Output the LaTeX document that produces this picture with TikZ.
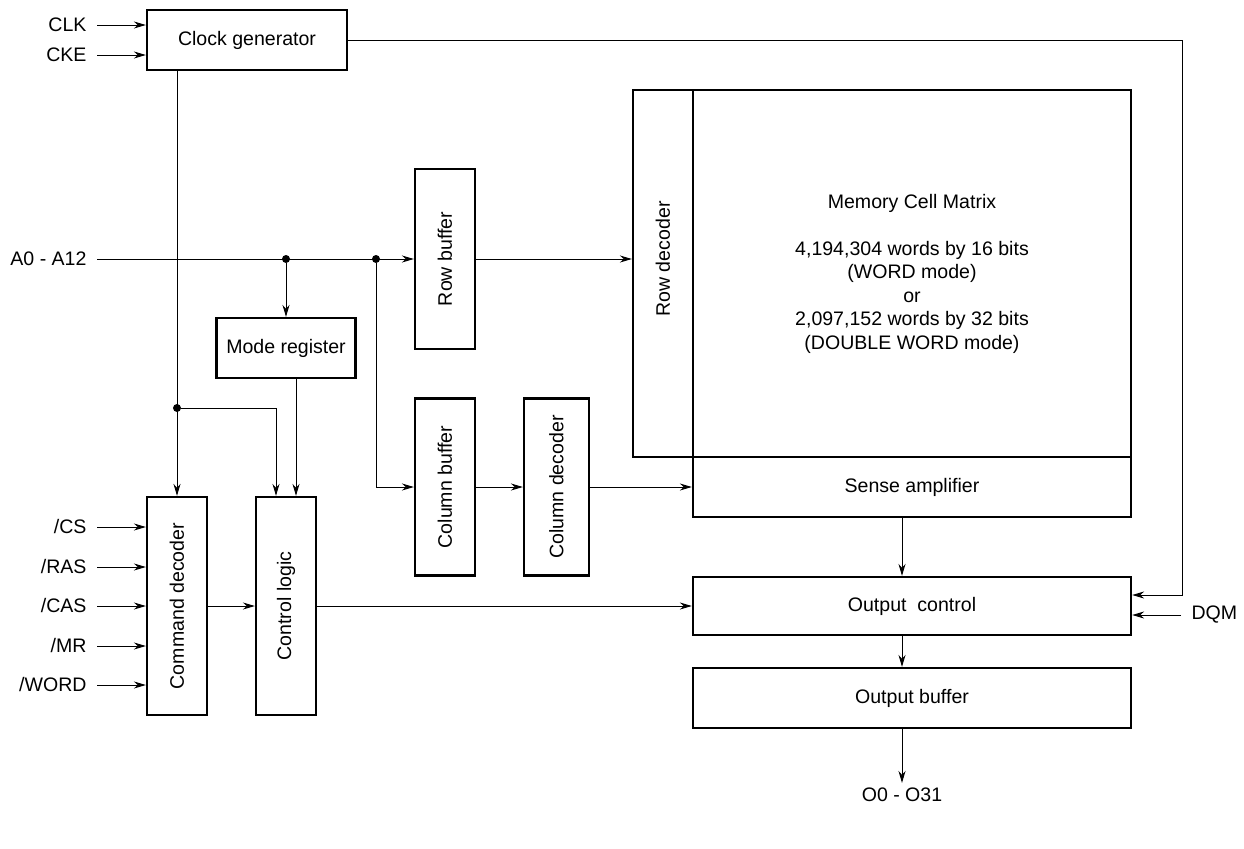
\documentclass[tikz,border=0pt]{standalone}
\usepackage{fontspec}
\setmainfont{Liberation Sans}
\usetikzlibrary{arrows.meta}
\tikzset{
  blk/.style={draw, line width=1.6pt, inner sep=0pt, align=center},
  sig/.style={inner xsep=0.25cm},
  dot/.style={circle, fill, inner sep=0pt, minimum size=0.2cm},
}
\begin{document}
\begin{tikzpicture}[x=0.025cm, y=-0.025cm, >={Stealth[length=8.5pt,width=5pt]}, line width=0.7pt, font=\fontsize{13.9}{16.7}\selectfont]
\useasboundingbox (0,0) rectangle (1244,849);

\node[blk, minimum width=5cm, minimum height=1.5cm] (clk) at (247,40) {Clock generator};
\node[blk, minimum width=3.475cm, minimum height=1.5cm] (mode) at (286,348) {Mode register};
\node[blk, minimum width=1.5cm, minimum height=4.5cm] (rowbuf) at (445,259) {\rotatebox{90}{Row buffer}};
\node[blk, minimum width=1.5cm, minimum height=4.425cm] (colbuf) at (445,487) {\rotatebox{90}{Column buffer}};
\node[blk, minimum width=1.625cm, minimum height=4.425cm] (coldec) at (556.5,487) {\rotatebox{90}{Column decoder}};
\node[blk, minimum width=1.5cm, minimum height=5.45cm] (cmd) at (177,606) {\rotatebox{90}{Command decoder}};
\node[blk, minimum width=1.5cm, minimum height=5.45cm] (ctrl) at (286,606) {\rotatebox{90}{Control logic}};
\node[blk, minimum width=1.5cm, minimum height=9.175cm] (rowdec) at (663,273.5) {};
\node[rotate=90] (rowdectext) at (663,259) {Row decoder};
\node[blk, minimum width=10.95cm, minimum height=9.175cm] (mem) at (912,273.5) {Memory Cell Matrix\\[16.7pt] 4,194,304 words by 16 bits\\ (WORD mode)\\ or\\ 2,097,152 words by 32 bits\\ (DOUBLE WORD mode)};
\node[blk, minimum width=10.95cm, minimum height=1.5cm] (sense) at (912,487) {Sense amplifier};
\node[blk, minimum width=10.95cm, minimum height=1.45cm] (outctrl) at (912,606) {Output\ \ control};
\node[blk, minimum width=10.95cm, minimum height=1.5cm] (outbuf) at (912,698) {Output buffer};

\node[anchor=east, sig] (clkin) at (97,25) {CLK};
\node[anchor=east, sig] (ckein) at (97,55) {CKE};
\node[anchor=east, sig] (addr) at (97,259) {A0 - A12};
\node[anchor=east, sig] (cs) at (97,527) {/CS};
\node[anchor=east, sig] (ras) at (97,567) {/RAS};
\node[anchor=east, sig] (cas) at (97,606) {/CAS};
\node[anchor=east, sig] (mr) at (97,646) {/MR};
\node[anchor=east, sig] (word) at (97,685) {/WORD};
\node[anchor=west, sig] (dqm) at (1181,615) {DQM};
\node (dout) at (902,795) {O0 - O31};

\node[dot] (ja) at (286,259) {};
\node[dot] (jb) at (376,259) {};
\node[dot] (jc) at (177,408) {};
\coordinate (fb) at (1182,595);

\draw[->] (clkin.east) -- (clkin.east -| clk.west);
\draw[->] (ckein.east) -- (ckein.east -| clk.west);
\draw[->] (cs.east) -- (cs.east -| cmd.west);
\draw[->] (ras.east) -- (ras.east -| cmd.west);
\draw[->] (cas.east) -- (cas.east -| cmd.west);
\draw[->] (mr.east) -- (mr.east -| cmd.west);
\draw[->] (word.east) -- (word.east -| cmd.west);

\draw[->] (clk.east) -- (clk.east -| fb) -- (fb) -- (fb -| outctrl.east);
\draw[->] (dqm.west) -- (dqm.west -| outctrl.east);
\draw[->] (clk.south -| cmd.north) -- (cmd.north);
\draw[->] (jc) -| ([xshift=-0.25cm]ctrl.north);
\draw[->] ([xshift=0.25cm]mode.south) -- ([xshift=0.25cm]ctrl.north);

\draw[->] (addr.east) -- (rowbuf.west);
\draw[->] (ja) -- (mode.north);
\draw[->] (jb) |- (colbuf.west);
\draw[->] (rowbuf.east) -- (rowbuf.east -| rowdec.west);
\draw[->] (colbuf.east) -- (coldec.west);
\draw[->] (coldec.east) -- (sense.west);
\draw[->] (cmd.east) -- (ctrl.west);
\draw[->] (ctrl.east) -- (ctrl.east -| outctrl.west);

\draw[->] (sense.south -| dout.north) -- (outctrl.north -| dout.north);
\draw[->] (outctrl.south -| dout.north) -- (outbuf.north -| dout.north);
\draw[->] (outbuf.south -| dout.north) -- (dout.north);
\end{tikzpicture}
\end{document}
